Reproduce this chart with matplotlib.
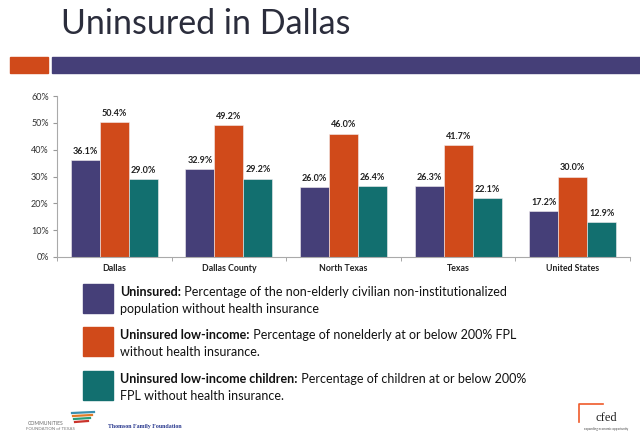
import matplotlib
matplotlib.use('Agg')
import matplotlib.pyplot as plt
import matplotlib.patches as mpatches
import numpy as np

# data
regions = ['Dallas', 'Dallas County', 'North Texas', 'Texas', 'United States']
uninsured = [36.1, 32.9, 26.0, 26.3, 17.2]
low_income = [50.4, 49.2, 46.0, 41.7, 30.0]
low_income_kids = [29.0, 29.2, 26.4, 22.1, 12.9]
yticks = [0, 10, 20, 30, 40, 50, 60]

legend_bold = ['Uninsured:', 'Uninsured low-income:', 'Uninsured low-income children:']
legend_rest = [
    [' Percentage of the non-elderly civilian non-institutionalized',
     'population without health insurance'],
    [' Percentage of nonelderly at or below 200% FPL',
     'without health insurance.'],
    [' Percentage of children at or below 200%',
     'FPL without health insurance.'],
]

PURPLE = '#453f78'
ORANGE = '#d04a1a'
TEAL = '#126f6f'
colors = [PURPLE, ORANGE, TEAL]
series = [uninsured, low_income, low_income_kids]

plt.rcParams['font.family'] = ['Lato', 'DejaVu Sans']

W, H = 640, 436
fig = plt.figure(figsize=(W / 100, H / 100), dpi=100)


def fx(px):
    return px / W


def fy(py):
    return 1 - py / H


# title + header bars
fig.text(fx(61), fy(24), 'Uninsured in Dallas', fontsize=24.5, color='#2b2d3c',
         va='center', ha='left')
fig.patches.append(mpatches.Rectangle((fx(10), fy(73)), fx(38), 16 / H,
                                      transform=fig.transFigure, color=ORANGE))
fig.patches.append(mpatches.Rectangle((fx(52), fy(73)), fx(588), 16 / H,
                                      transform=fig.transFigure, color=PURPLE))

# chart
ax = fig.add_axes([fx(57), fy(257), fx(573), (257 - 96) / H])
x = np.arange(len(regions))
bw = 0.253
for i, (vals, c) in enumerate(zip(series, colors)):
    bars = ax.bar(x + (i - 1) * bw, vals, bw, color=c, edgecolor='#f3eef0',
                  linewidth=0.4)
    for b, v in zip(bars, vals):
        ax.annotate('%.1f%%' % v, (b.get_x() + b.get_width() / 2, v),
                    xytext=(0, 3), textcoords='offset points', ha='center',
                    va='bottom', fontsize=6.5, fontweight='bold', color='#222222')

ax.set_xlim(-0.5, len(regions) - 0.5)
ax.set_ylim(0, 60)
ax.set_yticks(yticks)
ax.set_yticklabels(['%d%%' % t for t in yticks], fontsize=6.5, color='#333333')
ax.set_xticks(x)
ax.set_xticklabels(regions, fontsize=6.3, fontweight='bold', color='#222222')
ax.tick_params(axis='x', length=0, pad=5)
ax.tick_params(axis='y', length=3, color='#999999', pad=3)
ax.set_xticks(np.arange(len(regions) + 1) - 0.5, minor=True)
ax.tick_params(axis='x', which='minor', length=3, color='#999999')
for s in ['top', 'right']:
    ax.spines[s].set_visible(False)
for s in ['left', 'bottom']:
    ax.spines[s].set_color('#aaaaaa')
    ax.spines[s].set_linewidth(0.8)

# legend block
sq_top = [284, 327, 371]
for i in range(3):
    fig.patches.append(mpatches.Rectangle((fx(83), fy(sq_top[i] + 29)), fx(30), 29 / H,
                                          transform=fig.transFigure,
                                          color=colors[i]))
    y1 = sq_top[i] + 8
    t = fig.text(fx(120), fy(y1), legend_bold[i], fontsize=9,
                 fontweight='bold', color='#111111', va='center', ha='left')
    fig.add_artist(plt.Annotation(legend_rest[i][0], xy=(1, 0), xycoords=t,
                                  va='bottom', ha='left', fontsize=9,
                                  color='#111111', annotation_clip=False))
    fig.text(fx(120), fy(y1 + 17), legend_rest[i][1], fontsize=9,
             color='#111111', va='center', ha='left')

# footer logos
fig.text(fx(46), fy(423), 'COMMUNITIES', fontsize=3.6, color='#666666',
         ha='center', va='center')
fig.text(fx(50), fy(429), 'FOUNDATION of TEXAS', fontsize=3.2, color='#777777',
         ha='center', va='center')
for j, (c, yy) in enumerate(zip(['#3a8fb0', '#e07b28', '#2a9d7a', '#c9332b'],
                               [413, 416, 419, 422])):
    fig.add_artist(plt.Line2D([fx(72 + j), fx(94 - j * 2)], [fy(yy), fy(yy - 1)],
                              color=c, lw=1.6, transform=fig.transFigure))
fig.text(fx(108), fy(426), 'Thomson Family Foundation', fontsize=4.3,
         fontweight='bold', family='Liberation Serif', color='#2b3a8f',
         ha='left', va='center')
fig.add_artist(plt.Line2D([fx(603), fx(579), fx(579)], [fy(404), fy(404), fy(422)],
                          color='#ef5a2a', lw=1.2, transform=fig.transFigure))
fig.text(fx(606), fy(418), 'cfed', fontsize=9, family='Liberation Serif',
         color='#222222', ha='center', va='center')
fig.text(fx(606), fy(429), 'expanding economic opportunity', fontsize=2.2,
         color='#444444', ha='center', va='center')

fig.savefig('out.png', dpi=100)
